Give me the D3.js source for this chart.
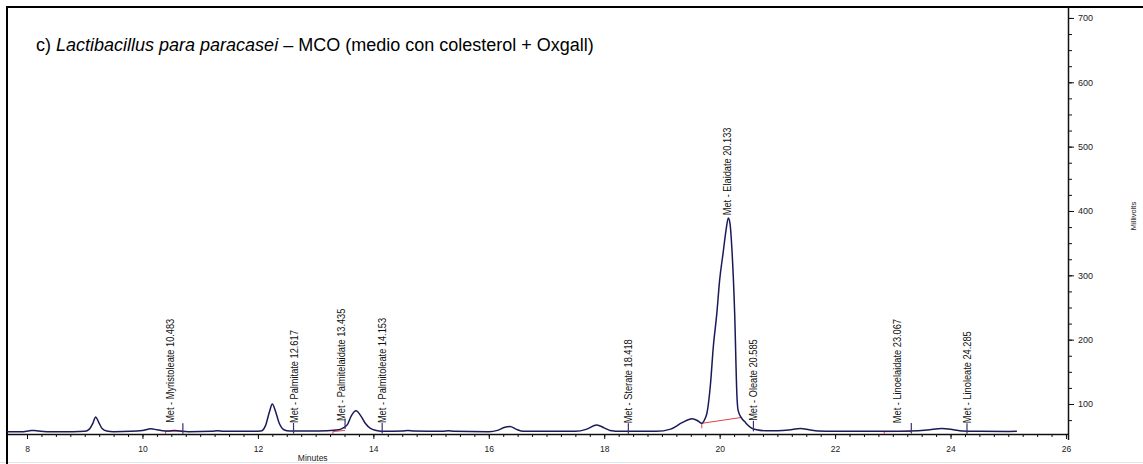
<!DOCTYPE html>
<html>
<head>
<meta charset="utf-8">
<script src="https://cdn.jsdelivr.net/npm/d3@7"></script>
<style>
  body { margin: 0; background: #fff; }
  svg { display: block; }
  .axis text { font-family: "Liberation Sans", Arial, sans-serif; font-size: 8.5px; fill: #222; }
  .axis.y text { font-size: 9px; }
  .axis line, .axis path { stroke: #111; }
  .title { font-family: "Liberation Sans", Arial, sans-serif; font-size: 18px; fill: #000; }
  .peak-label { font-family: "Liberation Sans", Arial, sans-serif; font-size: 11px; fill: #111; }
</style>
</head>
<body>
<svg id="chart" width="1143" height="464"></svg>
<script>
/*
** Data
*/
// retention time (minutes) and detector signal (mV)
var times = [
  7.65, 7.9, 8.05, 8.12, 8.2, 8.35, 8.8, 9.0, 9.08, 9.14, 9.19, 9.24, 9.3, 9.38, 9.5,
  9.8, 10.0, 10.15, 10.25, 10.35, 10.45, 10.55, 10.65, 10.8, 11.2, 11.3, 11.4, 11.8,
  12.05, 12.13, 12.2, 12.25, 12.3, 12.37, 12.45, 12.55, 12.9, 13.2, 13.4, 13.48, 13.55,
  13.62, 13.7, 13.78, 13.86, 13.95, 14.05, 14.2, 14.5, 14.6, 14.7, 15.2, 15.3, 15.4,
  16.0, 16.15, 16.28, 16.37, 16.47, 16.6, 17.5, 17.7, 17.87, 18.0, 18.1, 18.3, 18.9,
  19.15, 19.35, 19.52, 19.62, 19.69, 19.74, 19.78, 19.84, 19.89, 19.95, 20.0, 20.06,
  20.11, 20.15, 20.18, 20.21, 20.26, 20.3, 20.32, 20.38, 20.44, 20.49, 20.56, 20.64,
  20.8, 21.0, 21.2, 21.4, 21.55, 21.7, 22.0, 22.5, 23.0, 23.3, 23.6, 23.85, 24.05,
  24.2, 24.5, 25.0, 25.15
];
var millivolts = [
  57, 57, 58.5, 59, 58, 57, 57, 57.5, 61, 70, 80, 72, 62, 58, 57,
  57.5, 59, 61.5, 60, 58.5, 58, 59, 58, 57, 57.5, 58.5, 57.5, 57.5,
  58, 66, 88, 100, 90, 70, 60, 58, 58, 58.5, 60, 63, 68,
  82, 89.5, 82, 70, 62, 59, 57.5, 58, 59, 58, 57.5, 58.5, 57.5,
  57, 59, 64, 65, 61, 57.5, 57.5, 61, 67.5, 63, 59, 57.5, 57.5,
  61, 71, 77, 74, 70, 76, 86, 130, 189, 240, 293, 335,
  370, 389, 380, 344, 241, 111, 90, 78, 72, 67, 62, 60,
  58.5, 58.5, 59.5, 62, 60, 58, 57.5, 57.5, 57.8, 58, 59.5, 62, 60,
  58, 57.5, 57.3, 57.5
];

// identified peaks
var peakNames = [
  "Met - Myristoleate", "Met - Palmitate", "Met - Palmitelaidate", "Met - Palmitoleate",
  "Met - Sterate", "Met - Elaidate", "Met - Oleate", "Met - Linoelaidate", "Met - Linoleate"
];
var peakTimes = ["10.483", "12.617", "13.435", "14.153", "18.418", "20.133", "20.585", "23.067", "24.285"];

// peak event marks (dark) and integration baselines (red)
var markTimes = [10.70, 12.617, 13.51, 14.153, 18.418, 20.585, 23.32, 24.285];
var baseStartT = [10.40, 13.30, 19.69, 22.85];
var baseStartV = [57.8, 57.2, 70, 57];
var baseEndT = [10.70, 13.51, 20.37, 23.32];
var baseEndV = [58, 59, 79, 57.5];

// axis ticks
var xMajor = d3.range(8, 27, 2);
var xMinor = d3.range(8, 26.01, 0.25);
var yMajor = [100, 200, 300, 400, 500, 600, 700];
var yMinor = d3.range(75, 717, 25);

/*
** Chart
*/
function Chromatogram() {
  var svg
    , left = 7, right = 1068, top = 7, bottom = 434
    , x = d3.scaleLinear().domain([7.653, 26.035]).range([left, right])
    , y = d3.scaleLinear().domain([53.4, 717]).range([bottom, top])
    , trace = "#1a1a58"
    , red = "#e0404a"
  ;

  function signalAt(t) {
      var i = d3.bisectLeft(times, t);
      if (i <= 0) return millivolts[0];
      if (i >= times.length) return millivolts[millivolts.length - 1];
      var k = (t - times[i - 1]) / (times[i] - times[i - 1]);
      return millivolts[i - 1] + k * (millivolts[i] - millivolts[i - 1]);
  } // signalAt()

  function my(el) {
      svg = el;

      svg.append("defs").append("clipPath")
          .attr("id", "plot-clip")
        .append("rect")
          .attr("x", left).attr("y", top)
          .attr("width", right - left).attr("height", bottom - top);

      // faint line at the bottom of the picture
      svg.append("line")
          .attr("x1", 0).attr("x2", 1143)
          .attr("y1", 462.5).attr("y2", 462.5)
          .attr("stroke", "#dfe6ec");

      // outer box (left and top edges)
      svg.append("path")
          .attr("d", "M" + left + ",464V" + top + "H1143")
          .attr("fill", "none")
          .attr("stroke", "#000")
          .attr("stroke-width", 2);

      svg.append("text")
          .attr("class", "title")
          .attr("x", 36).attr("y", 51)
          .call(function(t) {
              t.append("tspan").text("c) ");
              t.append("tspan").attr("font-style", "italic").text("Lactibacillus para paracasei");
              t.append("tspan").text(" \u2013 MCO (medio con colesterol + Oxgall)");
          });

      // x axis
      var gx = svg.append("g").attr("class", "axis x")
          .attr("transform", "translate(0," + bottom + ")");
      gx.call(d3.axisBottom(x).tickValues(xMinor).tickSize(3).tickFormat(""))
        .select(".domain").remove();
      var gx2 = svg.append("g").attr("class", "axis x")
          .attr("transform", "translate(0," + bottom + ")");
      gx2.call(d3.axisBottom(x).tickValues(xMajor).tickSize(5).tickPadding(7).tickFormat(d3.format("d")))
        .select(".domain").remove();
      svg.append("line")
          .attr("x1", left).attr("x2", right)
          .attr("y1", bottom + 0.5).attr("y2", bottom + 0.5)
          .attr("stroke", "#111").attr("stroke-width", 1.5);
      svg.append("text")
          .attr("x", x(12.95)).attr("y", 461)
          .attr("text-anchor", "middle")
          .style("font-family", "Liberation Sans, Arial, sans-serif")
          .style("font-size", "8.5px")
          .attr("fill", "#222")
          .text("Minutes");

      // y axis on the right
      var gy = svg.append("g").attr("class", "axis y")
          .attr("transform", "translate(" + right + ",0)");
      gy.call(d3.axisRight(y).tickValues(yMinor).tickSize(4).tickFormat(""))
        .select(".domain").remove();
      var gy2 = svg.append("g").attr("class", "axis y")
          .attr("transform", "translate(" + right + ",0)");
      gy2.call(d3.axisRight(y).tickValues(yMajor).tickSize(6).tickPadding(4))
        .select(".domain").remove();
      svg.append("line")
          .attr("x1", right + 0.5).attr("x2", right + 0.5)
          .attr("y1", top).attr("y2", bottom + 6)
          .attr("stroke", "#111").attr("stroke-width", 1.5);
      svg.append("text")
          .attr("transform", "translate(1136,216) rotate(-90)")
          .attr("text-anchor", "middle")
          .style("font-family", "Liberation Sans, Arial, sans-serif")
          .style("font-size", "7.5px")
          .attr("fill", "#222")
          .text("Millivolts");

      var plot = svg.append("g").attr("clip-path", "url(#plot-clip)");

      // integration baselines
      plot.selectAll(".baseline")
          .data(baseStartT)
        .enter().append("line")
          .attr("class", "baseline")
          .attr("x1", function(d) { return x(d); })
          .attr("y1", function(d, i) { return y(baseStartV[i]); })
          .attr("x2", function(d, i) { return x(baseEndT[i]); })
          .attr("y2", function(d, i) { return y(baseEndV[i]); })
          .attr("stroke", red).attr("stroke-width", 1);
      plot.selectAll(".basetick")
          .data(baseStartT)
        .enter().append("line")
          .attr("class", "basetick")
          .attr("x1", function(d) { return x(d); })
          .attr("x2", function(d) { return x(d); })
          .attr("y1", function(d, i) { return y(baseStartV[i]); })
          .attr("y2", function(d, i) { return y(baseStartV[i]) + 5; })
          .attr("stroke", red).attr("stroke-width", 1);

      // the chromatogram trace
      var line = d3.line()
          .x(function(d) { return x(d); })
          .y(function(d, i) { return y(millivolts[i]); })
          .curve(d3.curveMonotoneX);
      plot.append("path")
          .datum(times)
          .attr("d", line)
          .attr("fill", "none")
          .attr("stroke", trace)
          .attr("stroke-width", 1.5)
          .attr("stroke-linejoin", "round");

      // peak event marks
      plot.selectAll(".mark")
          .data(markTimes)
        .enter().append("line")
          .attr("class", "mark")
          .attr("x1", function(d) { return x(d); })
          .attr("x2", function(d) { return x(d); })
          .attr("y1", function(d) { return y(signalAt(d)) - 8; })
          .attr("y2", function(d) { return y(signalAt(d)) + 2.5; })
          .attr("stroke", "#3a2f78").attr("stroke-width", 1.2);

      // peak labels, rotated and condensed
      svg.selectAll(".peak-label")
          .data(peakTimes)
        .enter().append("text")
          .attr("class", "peak-label")
          .attr("transform", function(d) {
              var t = +d;
              return "translate(" + (x(t) + 4) + "," + (y(signalAt(t)) - 8) + ") rotate(-90) scale(0.84,1)";
            })
          .text(function(d, i) { return peakNames[i] + "  " + d; });
  } // my()

  return my;
} // Chromatogram()

d3.select("#chart").call(Chromatogram());
</script>
</body>
</html>
